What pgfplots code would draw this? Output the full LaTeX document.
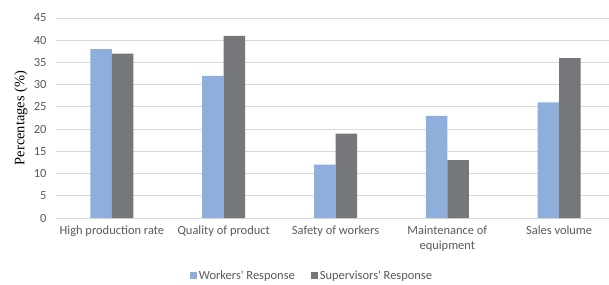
\documentclass[border=0pt]{standalone}
\usepackage{fontspec}
\setmainfont{Carlito}
\newfontfamily\seriffont{Liberation Serif}
\usepackage{pgfplots}
\pgfplotsset{compat=1.18}
\definecolor{wblue}{HTML}{8EAEDB}
\definecolor{sgray}{HTML}{76777B}
\definecolor{txt}{HTML}{595959}
\definecolor{grd}{HTML}{D9D9D9}
\begin{document}
\begin{tikzpicture}[x=1bp,y=1bp]
\path[use as bounding box] (0,0) rectangle (609,284);
\begin{axis}[
  at={(56bp,66bp)}, anchor=south west,
  scale only axis, width=559bp, height=200bp,
  xmin=-0.5, xmax=4.5, ymin=0, ymax=45,
  ytick={0,5,...,45}, xtick={0,1,2,3,4},
  xticklabels={High production rate,Quality of product,Safety of workers,{Maintenance of\\equipment},Sales volume},
  ybar=0pt, bar width=21.5bp,
  axis line style={draw=none},
  major tick length=0pt,
  ymajorgrids, grid style={grd, line width=0.8bp},
  tick label style={font=\fontsize{12.5}{15}\selectfont, text=txt},
  /pgf/number format/assume math mode=true,
  xticklabel style={align=center, yshift=-4bp},
  yticklabel style={xshift=-6bp},
  ylabel={\seriffont Percentages (\%)},
  ylabel style={at={(rel axis cs:0,0.5)}, anchor=center, yshift=35bp, font=\fontsize{14.5}{17}\selectfont, text=black},
  legend style={at={(rel axis cs:0.234,-0.29)}, anchor=west, draw=none, fill=none,
    legend columns=2, font=\fontsize{12.5}{15}\selectfont, text=txt,
    /tikz/every even column/.append style={column sep=14bp}},
  legend image code/.code={\fill[#1] (0bp,-3bp) rectangle (7bp,4bp);},
]
\addplot[fill=wblue, draw=none] coordinates {(0,38) (1,32) (2,12) (3,23) (4,26)};
\addplot[fill=sgray, draw=none] coordinates {(0,37) (1,41) (2,19) (3,13) (4,36)};
\legend{Workers\textquotesingle\ Response, Supervisors\textquotesingle\ Response}
\end{axis}
\end{tikzpicture}
\end{document}
